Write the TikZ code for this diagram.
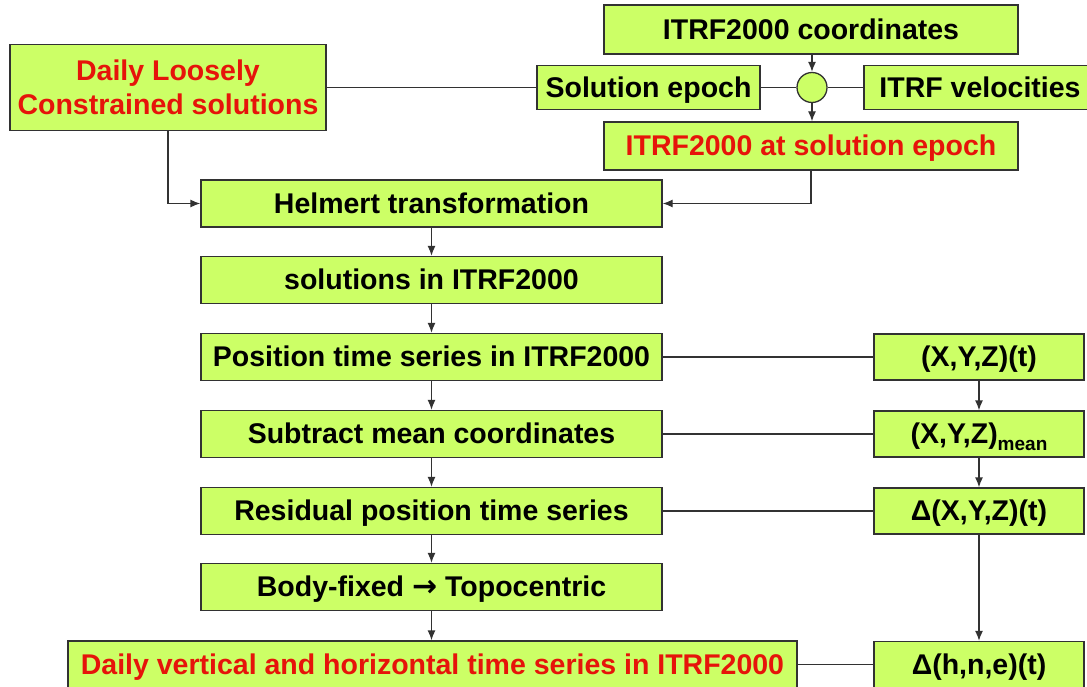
\documentclass[tikz,border=0pt]{standalone}
\usepackage{fontspec}
\setmainfont{Liberation Sans}
\newfontfamily\arrowfont{DejaVu Sans}
\usetikzlibrary{arrows.meta}
\definecolor{boxfill}{RGB}{204,255,102}
\definecolor{boxline}{RGB}{50,50,50}
\definecolor{redtxt}{RGB}{230,20,10}
\tikzset{
  boxbase/.style={draw=boxline, line width=1.3pt, fill=boxfill, inner sep=0pt, align=center,
    font=\fontsize{28.5}{34}\selectfont\bfseries},
  box/.style={boxbase, text height=20.5pt, text depth=1pt},
  redbox/.style={box, text=redtxt},
  conn/.style={draw=boxline, line width=1.3pt},
  arr/.style={conn, -{Latex[length=10pt,width=8pt]}}
}
\begin{document}
\begin{tikzpicture}[x=1pt,y=-1pt]
\clip (0,0) rectangle (1087,687);
\fill[white] (0,0) rectangle (1087,687);
% top right
\node[box, minimum width=414, minimum height=49] (coords) at (811,29.5) {ITRF2000 coordinates};
\node[box, minimum width=223, minimum height=44] (solep) at (648.5,87.5) {Solution epoch};
\node[draw=boxline, line width=1.3pt, fill=boxfill, circle, minimum size=30, inner sep=0pt] (circ) at (812,87.5) {};
\node[box, minimum width=232, minimum height=44] (vel) at (980,87.5) {ITRF velocities};
\node[redbox, minimum width=414, minimum height=48] (atep) at (811,146) {ITRF2000 at solution epoch};
\node[boxbase, text=redtxt, minimum width=316, minimum height=86] (daily) at (168,87.5) {Daily Loosely\\Constrained solutions};
% main column
\node[box, minimum width=461, minimum height=47] (helm) at (431.5,203.5) {Helmert transformation};
\node[box, minimum width=461, minimum height=47] (sol) at (431.5,280) {solutions in ITRF2000};
\node[box, minimum width=461, minimum height=47] (pos) at (431.5,357) {Position time series in ITRF2000};
\node[box, minimum width=461, minimum height=47] (sub) at (431.5,434) {Subtract mean coordinates};
\node[box, minimum width=461, minimum height=47] (res) at (431.5,511) {Residual position time series};
\node[box, minimum width=461, minimum height=47] (body) at (431.5,587) {Body-fixed {\arrowfont\fontsize{30}{34}\selectfont →} Topocentric};
\node[redbox, minimum width=729, minimum height=47] (dv) at (432.5,664.5) {Daily vertical and horizontal time series in ITRF2000};
% right column
\node[box, minimum width=210, minimum height=46] (xyz) at (979,357) {(X,Y,Z)(t)};
\node[box, minimum width=210, minimum height=46] (mean) at (979,434) {(X,Y,Z)\raisebox{-7pt}{\fontsize{19}{21}\selectfont mean}};
\node[box, minimum width=210, minimum height=46] (dxyz) at (979,511) {Δ(X,Y,Z)(t)};
\node[box, minimum width=210, minimum height=46] (dhne) at (979,664.5) {Δ(h,n,e)(t)};
% connectors
\draw[conn] (daily.east) -- (solep.west);
\draw[conn] (solep.east) -- (circ.west);
\draw[conn] (circ.east) -- (vel.west);
\draw[arr] (coords.south -| circ.north) -- (circ.north);
\draw[arr] (circ.south) -- (circ.south |- atep.north);
\draw[arr] (atep.south) |- (helm.east);
\draw[arr] (daily.south) |- (helm.west);
\draw[arr] (helm) -- (sol);
\draw[arr] (sol) -- (pos);
\draw[arr] (pos) -- (sub);
\draw[arr] (sub) -- (res);
\draw[arr] (res) -- (body);
\draw[arr] (body.south) -- (body.south |- dv.north);
\draw[conn] (pos.east) -- (xyz.west);
\draw[conn] (sub.east) -- (mean.west);
\draw[conn] (res.east) -- (dxyz.west);
\draw[conn] (dv.east) -- (dhne.west);
\draw[arr] (xyz) -- (mean);
\draw[arr] (mean) -- (dxyz);
\draw[arr] (dxyz) -- (dhne);
\end{tikzpicture}
\end{document}
